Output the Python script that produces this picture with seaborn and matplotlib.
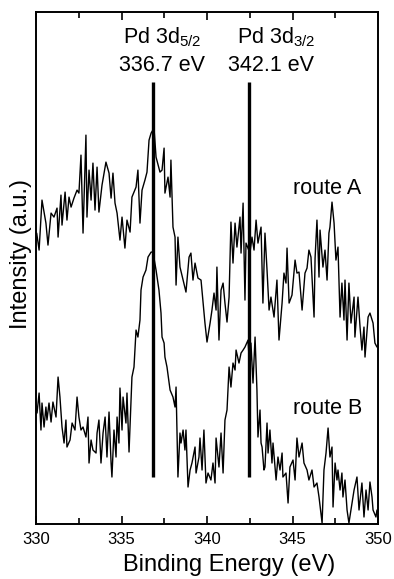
import matplotlib
matplotlib.use("Agg")
import matplotlib.pyplot as plt
import seaborn as sns
import pandas as pd
from matplotlib.ticker import MultipleLocator

# route A (binding energy in eV, intensity a.u.)
energy_a = [330.04, 330.18, 330.35, 330.58, 330.70, 330.88, 331.05, 331.23, 331.29, 331.46,
            331.52, 331.70, 331.81, 331.93, 332.05, 332.22, 332.40, 332.51, 332.63, 332.75,
            332.92, 332.98, 333.10, 333.22, 333.33, 333.45, 333.57, 333.68, 333.86, 334.09,
            334.27, 334.39, 334.50, 334.62, 334.74, 334.91, 335.03, 335.20, 335.32, 335.50,
            335.61, 335.85, 335.96, 336.08, 336.20, 336.37, 336.49, 336.61, 336.73, 336.90,
            337.02, 337.25, 337.37, 337.49, 337.54, 337.72, 337.84, 337.89, 338.01, 338.13,
            338.19, 338.30, 338.42, 338.60, 338.77, 338.95, 339.06, 339.18, 339.30, 339.47,
            339.65, 339.77, 339.88, 340.00, 340.18, 340.29, 340.41, 340.53, 340.58, 340.70,
            340.82, 340.94, 341.05, 341.17, 341.29, 341.40, 341.52, 341.64, 341.75, 341.93,
            341.99, 342.11, 342.22, 342.28, 342.51, 342.63, 342.75, 342.87, 342.98, 343.16,
            343.27, 343.39, 343.51, 343.63, 343.74, 343.92, 344.09, 344.21, 344.39, 344.50,
            344.62, 344.68, 344.80, 344.97, 345.15, 345.26, 345.38, 345.56, 345.73, 345.85,
            345.96, 346.08, 346.26, 346.32, 346.43, 346.55, 346.61, 346.78, 346.90, 347.02,
            347.13, 347.19, 347.31, 347.43, 347.54, 347.66, 347.78, 347.89, 348.01, 348.07,
            348.19, 348.30, 348.42, 348.60, 348.65, 348.83, 348.95, 349.06, 349.18, 349.24,
            349.42, 349.53, 349.71, 349.82, 349.94]
intensity_a = [291, 274, 324, 301, 279, 311, 307, 316, 287, 329,
               299, 332, 304, 327, 317, 326, 334, 331, 369, 291,
               389, 307, 354, 324, 361, 314, 357, 312, 339, 362,
               351, 326, 351, 321, 311, 284, 307, 276, 304, 292,
               327, 337, 354, 301, 334, 344, 352, 384, 391, 396,
               367, 352, 354, 376, 331, 347, 327, 364, 297, 287,
               239, 287, 257, 244, 232, 267, 271, 244, 261, 246,
               244, 221, 201, 182, 201, 214, 231, 214, 257, 184,
               234, 241, 221, 202, 227, 302, 261, 301, 277, 307,
               271, 321, 224, 281, 271, 287, 274, 304, 281, 297,
               221, 291, 254, 214, 227, 207, 244, 184, 221, 251,
               241, 276, 221, 229, 264, 251, 252, 214, 251, 256,
               274, 267, 207, 266, 304, 247, 294, 257, 274, 244,
               291, 297, 322, 301, 264, 277, 207, 241, 204, 244,
               184, 241, 201, 227, 187, 227, 197, 174, 197, 167,
               207, 211, 201, 181, 177]

# route B
energy_b = [330.06, 330.18, 330.29, 330.35, 330.47, 330.58, 330.64, 330.76, 330.88, 330.99,
            331.17, 331.29, 331.40, 331.52, 331.64, 331.75, 331.81, 331.99, 332.11, 332.28,
            332.40, 332.51, 332.63, 332.75, 332.92, 333.04, 333.10, 333.22, 333.33, 333.51,
            333.57, 333.68, 333.80, 333.92, 334.04, 334.15, 334.27, 334.39, 334.44, 334.56,
            334.68, 334.74, 334.85, 334.91, 335.03, 335.09, 335.26, 335.32, 335.44, 335.56,
            335.61, 335.73, 335.85, 335.96, 336.08, 336.14, 336.26, 336.43, 336.55, 336.73,
            336.84, 337.02, 337.19, 337.31, 337.37, 337.49, 337.54, 337.66, 337.84, 338.01,
            338.13, 338.19, 338.30, 338.42, 338.48, 338.60, 338.71, 338.77, 338.89, 339.01,
            339.12, 339.30, 339.36, 339.53, 339.59, 339.71, 339.82, 339.94, 340.06, 340.23,
            340.35, 340.47, 340.53, 340.70, 340.82, 340.94, 341.05, 341.17, 341.29, 341.40,
            341.52, 341.64, 341.70, 341.87, 341.99, 342.11, 342.22, 342.40, 342.51, 342.57,
            342.69, 342.81, 342.92, 342.98, 343.10, 343.16, 343.22, 343.33, 343.39, 343.51,
            343.57, 343.68, 343.80, 343.86, 344.04, 344.15, 344.27, 344.39, 344.44, 344.62,
            344.74, 344.85, 345.03, 345.15, 345.26, 345.38, 345.56, 345.67, 345.85, 345.96,
            346.14, 346.26, 346.43, 346.55, 346.73, 346.84, 346.96, 347.08, 347.19, 347.31,
            347.37, 347.49, 347.60, 347.66, 347.78, 347.89, 347.95, 348.07, 348.19, 348.30,
            348.48, 348.60, 348.77, 348.89, 349.06, 349.18, 349.30, 349.42, 349.53, 349.65,
            349.71, 349.88, 349.94]
intensity_b = [111, 131, 94, 121, 97, 117, 104, 121, 102, 122,
               107, 147, 127, 97, 81, 104, 77, 84, 101, 94,
               127, 107, 94, 97, 87, 107, 61, 84, 74, 71,
               91, 104, 61, 91, 107, 67, 112, 61, 47, 94,
               67, 107, 81, 136, 94, 127, 101, 131, 72, 124,
               147, 157, 194, 187, 204, 234, 247, 254, 267, 272,
               272, 254, 234, 211, 187, 181, 167, 157, 134, 127,
               117, 137, 47, 91, 81, 94, 74, 94, 37, 54,
               61, 77, 51, 67, 86, 54, 94, 41, 51, 44,
               61, 41, 86, 57, 91, 51, 104, 114, 157, 137,
               161, 154, 174, 161, 171, 174, 177, 184, 151, 181,
               141, 187, 134, 87, 114, 81, 77, 54, 57, 101,
               71, 94, 61, 81, 44, 67, 54, 71, 47, 51,
               21, 57, 64, 44, 86, 67, 81, 61, 54, 44,
               54, 37, 41, 27, 1, 54, 71, 96, 67, 77,
               17, 61, 44, 54, 34, 51, 27, 44, 14, 1,
               21, 34, 47, 14, 41, 7, 34, 14, 42, 27,
               14, 7, 14]

peak_positions = [336.85, 342.45]
peak_names = ["Pd 3d$_{5/2}$", "Pd 3d$_{3/2}$"]
peak_energies = ["336.7 eV", "342.1 eV"]
route_labels = ["route A", "route B"]

df = pd.concat([
    pd.DataFrame({"energy": energy_a, "intensity": intensity_a, "route": "A"}),
    pd.DataFrame({"energy": energy_b, "intensity": intensity_b, "route": "B"}),
])

sns.set_theme(style="ticks")
plt.rcParams["font.family"] = ["Liberation Sans", "DejaVu Sans"]
plt.rcParams["mathtext.fontset"] = "custom"
plt.rcParams["mathtext.rm"] = "Liberation Sans"
plt.rcParams["mathtext.it"] = "Liberation Sans"

fig = plt.figure(figsize=(3.94, 5.79), dpi=100)
ax = fig.add_axes([0.0914, 0.095, 0.868, 0.884])

sns.lineplot(data=df, x="energy", y="intensity", units="route", estimator=None,
             sort=False, color="black", linewidth=1.0, ax=ax)

for pos in peak_positions:
    ax.vlines(pos, 47, 442, color="black", linewidth=2.4)

ax.text(337.4, 487, peak_names[0], ha="center", va="center", fontsize=15.5, color="black")
ax.text(337.35, 459, peak_energies[0], ha="center", va="center", fontsize=15.5, color="black")
ax.text(344.05, 487, peak_names[1], ha="center", va="center", fontsize=15.5, color="black")
ax.text(343.72, 459, peak_energies[1], ha="center", va="center", fontsize=15.5, color="black")
ax.text(347.05, 336, route_labels[0], ha="center", va="center", fontsize=15.5, color="black")
ax.text(347.05, 116, route_labels[1], ha="center", va="center", fontsize=15.5, color="black")

ax.set_xlim(330, 350)
ax.set_ylim(0, 512)
ax.xaxis.set_major_locator(MultipleLocator(5))
ax.xaxis.set_minor_locator(MultipleLocator(2.5))
ax.tick_params(axis="x", which="both", direction="in", top=True, bottom=True,
               labelsize=12, colors="black", pad=6)
ax.tick_params(axis="x", which="major", length=6, width=1.2)
ax.tick_params(axis="x", which="minor", length=4, width=1.2)
ax.set_yticks([])
for s in ax.spines.values():
    s.set_linewidth(1.4)
    s.set_color("black")

ax.set_xlabel("Binding Energy (eV)", fontsize=17, color="black")
ax.set_ylabel("Intensity (a.u.)", fontsize=17, color="black")
ax.xaxis.set_label_coords(0.564, -0.058)
ax.yaxis.set_label_coords(-0.012, 0.527)

fig.savefig("out.png", dpi=100)
